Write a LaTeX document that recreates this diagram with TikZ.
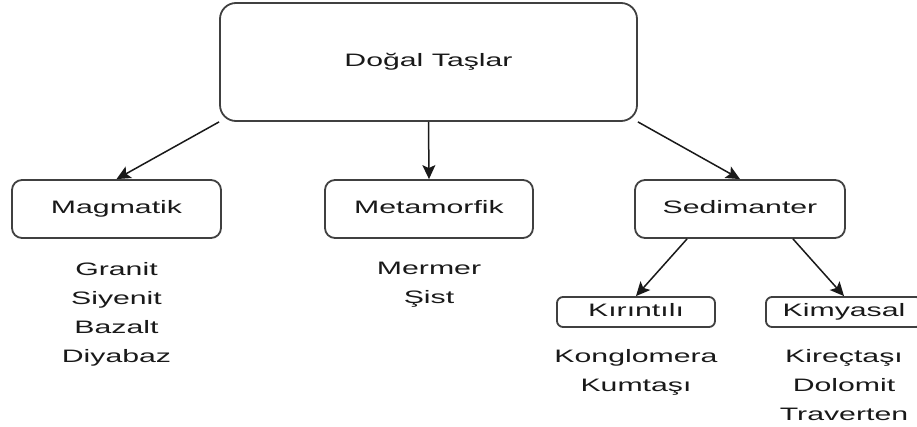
\documentclass[tikz,border=0pt]{standalone}
\usepackage{fontspec}
\setmainfont[FakeStretch=1.68]{Liberation Sans}
\usetikzlibrary{arrows.meta,positioning,calc}

\begin{document}
\begin{tikzpicture}[x=1pt, y=-1pt, every node/.style={font=\fontsize{18}{29}\selectfont, text=black!90},
    box/.style={draw=black!75, line width=1.8pt, rounded corners=10pt, inner sep=0pt, text height=13pt, text depth=3.5pt},
    arr/.style={-{Stealth[length=14pt,width=13pt,inset=3pt]}, line width=1.5pt, black!90}]
    \useasboundingbox (0,0) rectangle (917,427);
    \node[box, rounded corners=16pt, minimum width=417pt, minimum height=118pt] (root) at (428.5,62) {Doğal Taşlar};
    \node[box, minimum width=209pt, minimum height=58pt] (mag) at (116.5,209) {Magmatik};
    \node[box, minimum width=208pt, minimum height=58pt] (meta) at (429,209) {Metamorfik};
    \node[box, minimum width=210pt, minimum height=58pt] (sed) at (740,209) {Sedimanter};
    \node[box, rounded corners=6pt, minimum width=158pt, minimum height=30pt] (kir) at (636,312) {Kırıntılı};
    \node[box, rounded corners=6pt, minimum width=156pt, minimum height=30pt] (kim) at (844,312) {Kimyasal};
    % alt listeler
    \node[align=center, below=20pt of mag] (magl) {Granit\\Siyenit\\Bazalt\\Diyabaz};
    \node[align=center, below=20pt of meta] (metal) {Mermer\\Şist};
    \node[align=center, below=18pt of kir] (kirl) {Konglomera\\Kumtaşı};
    \node[align=center, below=18pt of kim] (kiml) {Kireçtaşı\\Dolomit\\Traverten};
    \draw[arr] (root.south west) -- (mag.north);
    \draw[arr] (root.south) -- (meta.north);
    \draw[arr] (root.south east) -- (sed.north);
    \draw[arr] ($(sed.south west)!0.25!(sed.south east)$) -- (kir.north);
    \draw[arr] ($(sed.south west)!0.75!(sed.south east)$) -- (kim.north);
\end{tikzpicture}
\end{document}
